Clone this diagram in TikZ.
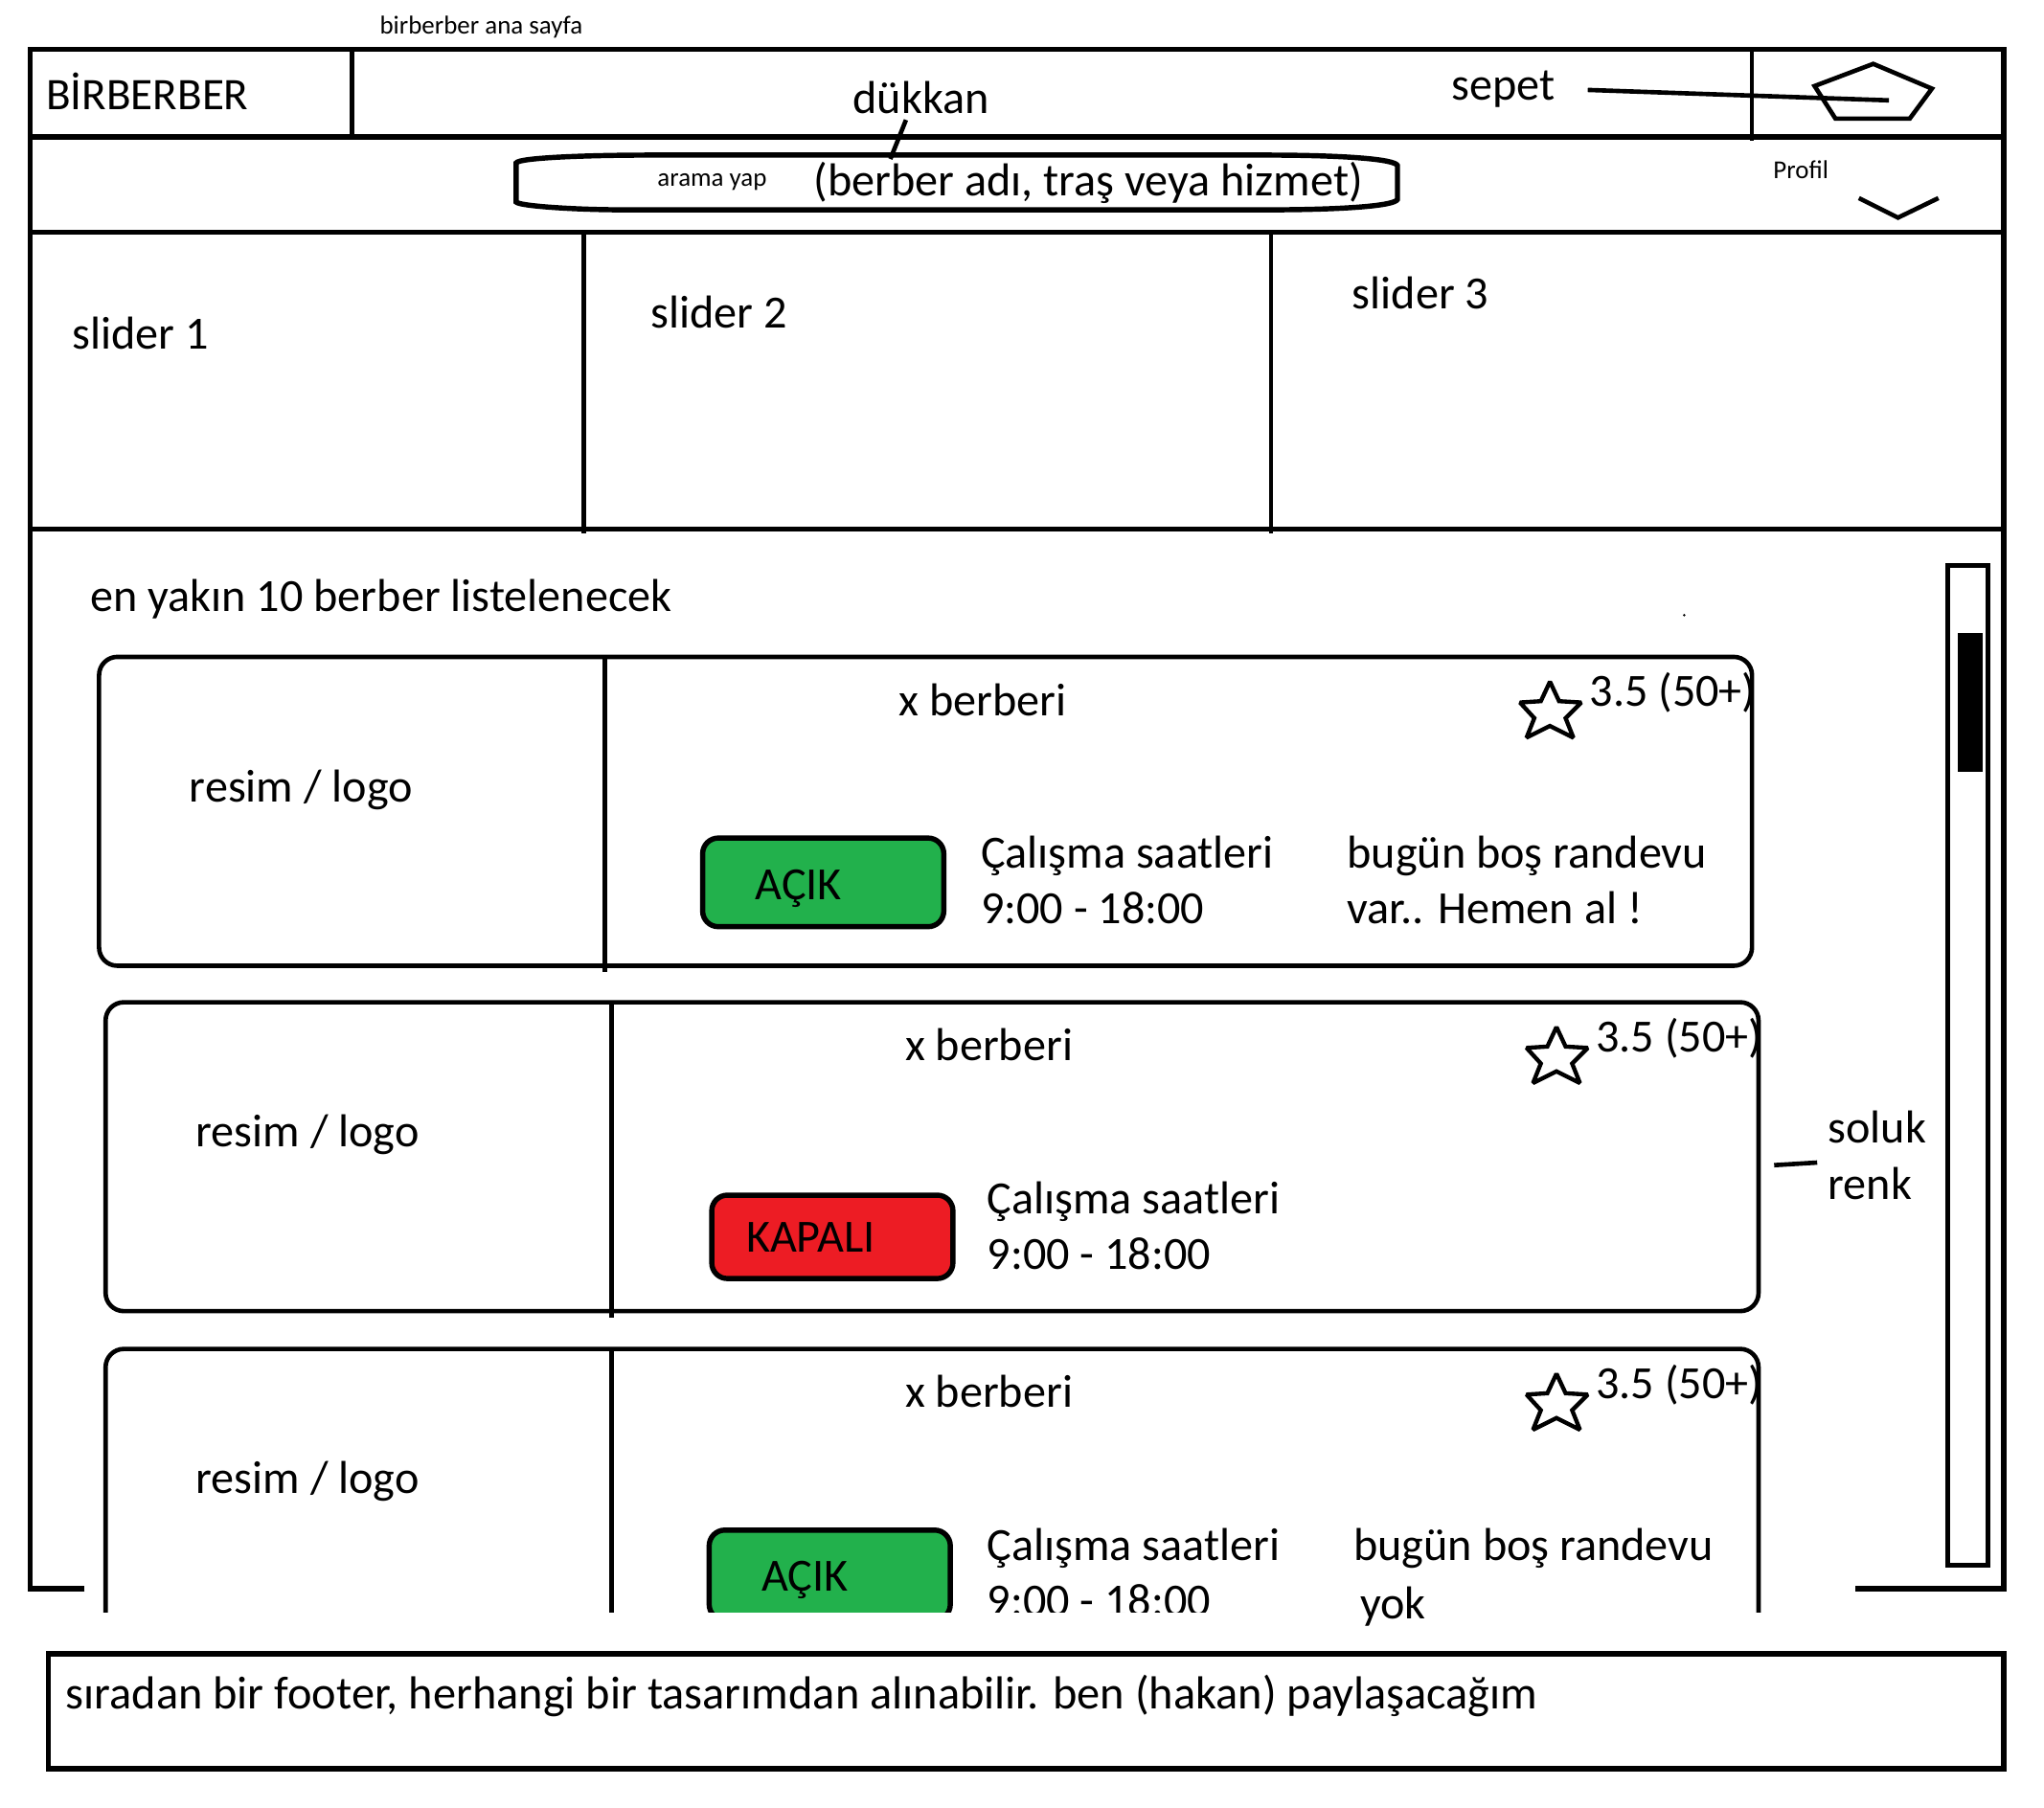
\documentclass[tikz,border=0pt]{standalone}
\usepackage{fontspec}
\setmainfont{Carlito}
\usetikzlibrary{positioning}
\definecolor{openGreen}{HTML}{22B14C}
\definecolor{closedRed}{HTML}{ED1C24}

\begin{document}
\begin{tikzpicture}[x=0.5pt,y=-0.5pt,
	bigline/.style={line width=2pt},
	midline/.style={line width=1.7pt},
	label/.style={anchor=base west,inner sep=0pt,yshift=-0.5pt,font=\fontsize{17.7}{20}\selectfont},
	small/.style={anchor=base west,inner sep=0pt,yshift=-1pt,font=\fontsize{9.9}{12}\selectfont},
	star5/.style={line width=1.6pt,miter limit=2},
	button/.style={draw,bigline,rounded corners=6pt}]
	\useasboundingbox (0,0) rectangle (1568,1387.2);

	% page frame
	\draw[bigline] (65,1219) -- (23,1219) -- (23,38) -- (1537,38) -- (1537,1219) -- (1423,1219);
	\draw[bigline] (23,105) -- (1537,105);
	\draw[bigline] (23,178) -- (1537,178);
	\draw[bigline] (23,406) -- (1537,406);
	\draw[midline] (270,38) -- (270,105);
	\draw[midline] (1344,38) -- (1344,108);
	\draw[midline] (448,178) -- (448,409);
	\draw[midline] (975,178) -- (975,409);

	% header
	\node[small] (TITLE) at (291,24) {birberber ana sayfa};
	\node[label,font=\fontsize{17.3}{20}\selectfont] (LOGO) at (35,83) {BİRBERBER};
	\node[label] (SHOP) at (654,86) {dükkan};
	\node[label] (CART) at (1113,76) {sepet};
	\draw[midline] (1392,66) -- (1437,49) -- (1482,68) -- (1465,91) -- (1408,91) -- cycle;
	\coordinate (CARTEND) at (1449,77);
	\draw[midline] (1218,69) -- (CARTEND);

	% search row
	\draw[bigline] (396,125) .. controls (398,121) and (450,119) .. (500,119) -- (970,119) .. controls (1030,119) and (1070,122) .. (1072,127) -- (1072,153) .. controls (1070,158) and (1030,161) .. (970,161) -- (480,161) .. controls (440,161) and (398,158) .. (396,155) -- cycle;
	\draw[midline] (695,92) -- (683,122);
	\node[small] (SEARCH) at (504,141) {arama yap};
	\node[label] (HINT) at (624,149) {(berber adı, traş veya hizmet)};
	\node[small] (PROFILE) at (1360,135) {Profil};
	\draw[midline] (1426,152) -- (1456,167) -- (1487,152);

	% sliders
	\node[label] (S1) at (55,267) {slider 1};
	\node[label] (S2) at (499,251) {slider 2};
	\node[label] (S3) at (1037,236) {slider 3};

	\node[label] (LIST) at (69,468) {en yakın 10 berber listelenecek};
	\fill (1292,472) circle (1);

	% scrollbar
	\draw[bigline] (1494,434) rectangle (1525,1201);
	\fill (1502,486) rectangle (1521,592);

	% first card
	\draw[midline,rounded corners=7pt] (76,504) rectangle (1344,741);
	\draw[midline] (464,504) -- (464,746);
	\node[label] (N1) at (689,548) {x berberi};
	\node[label] (R1) at (1219,541) {3.5 (50+)};
	\draw[star5] (1189,523) -- (1196,538) -- (1213,539) -- (1201,551) -- (1207,566) -- (1189,557) -- (1171,566) -- (1177,551) -- (1166,539) -- (1182,538) -- cycle;
	\node[label] (L1) at (145,614) {resim / logo};
	\draw[button,fill=openGreen] (539,643) rectangle (724,711);
	\node[label] (B1) at (579,689) {AÇIK};
	\node[label] (H1) at (752,665) {Çalışma saatleri};
	\node[label] (T1) at (752,708) {9:00 - 18:00};
	\node[label] (F1) at (1033,665) {bugün boş randevu};
	\node[label] (G1) at (1033,708) {var.. Hemen al !};

	% second card
	\draw[midline,rounded corners=7pt] (81,769) rectangle (1349,1006);
	\draw[midline] (469,769) -- (469,1011);
	\node[label] (N2) at (694,813) {x berberi};
	\node[label] (R2) at (1224,806) {3.5 (50+)};
	\draw[star5] (1194,788) -- (1201,803) -- (1218,804) -- (1206,816) -- (1212,831) -- (1194,822) -- (1176,831) -- (1182,816) -- (1171,804) -- (1187,803) -- cycle;
	\node[label] (L2) at (150,879) {resim / logo};
	\draw[button,fill=closedRed] (546,917) rectangle (731,981);
	\node[label] (B2) at (572,960) {KAPALI};
	\node[label] (H2) at (757,930) {Çalışma saatleri};
	\node[label] (T2) at (757,973) {9:00 - 18:00};
	\draw[midline] (1361,894) -- (1394,892);
	\node[label] (FADE1) at (1402,876) {soluk};
	\node[label] (FADE2) at (1402,919) {renk};

	% third card, cut off by the page end
	\begin{scope}
		\clip (0,0) rectangle (1568,1237);
		\draw[midline,rounded corners=7pt] (81,1290) -- (81,1035) -- (1349,1035) -- (1349,1290);
		\draw[midline] (469,1035) -- (469,1290);
		\draw[button,fill=openGreen] (544,1174) rectangle (729,1243);
		\node[label] (T3) at (757,1239) {9:00 - 18:00};
	\end{scope}
	\node[label] (N3) at (694,1079) {x berberi};
	\node[label] (R3) at (1224,1072) {3.5 (50+)};
	\draw[star5] (1194,1054) -- (1201,1069) -- (1218,1070) -- (1206,1082) -- (1212,1097) -- (1194,1088) -- (1176,1097) -- (1182,1082) -- (1171,1070) -- (1187,1069) -- cycle;
	\node[label] (L3) at (150,1145) {resim / logo};
	\node[label] (B3) at (584,1220) {AÇIK};
	\node[label] (H3) at (757,1196) {Çalışma saatleri};
	\node[label] (F3) at (1038,1196) {bugün boş randevu};
	\node[label] (G3) at (1043,1241) {yok};

	% footer
	\draw[bigline] (37,1269) rectangle (1537,1357);
	\node[label,font=\fontsize{17.76}{20}\selectfont] (FOOT) at (50,1310) {sıradan bir footer, herhangi bir tasarımdan alınabilir. ben (hakan) paylaşacağım};
\end{tikzpicture}
\end{document}
